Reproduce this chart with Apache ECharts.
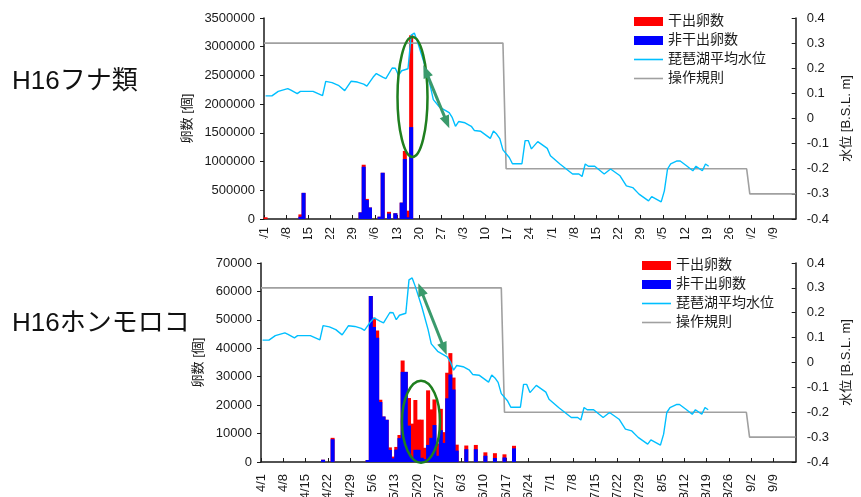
<!DOCTYPE html>
<html><head><meta charset="utf-8">
<script src="https://cdn.jsdelivr.net/npm/echarts@6/dist/echarts.min.js"></script>
<style>
html,body{margin:0;padding:0;background:#fff;width:861px;height:497px;overflow:hidden;}
#topClip{position:absolute;left:0;top:0;width:861px;height:239px;overflow:hidden;}
#botClip{position:absolute;left:0;top:243px;width:861px;height:254px;overflow:hidden;}
#top{width:861px;height:290px;}
#bot{width:861px;height:300px;}
</style></head><body>
<div id="topClip"><div id="top"></div></div>
<div id="botClip"><div id="bot"></div></div>
<script>
// ---------- data ----------
const xTickLabels = ['4/1','4/8','4/15','4/22','4/29','5/6','5/13','5/20','5/27','6/3','6/10','6/17','6/24','7/1','7/8','7/15','7/22','7/29','8/5','8/12','8/19','8/26','9/2','9/9'];

// Lake Biwa mean water level (B.S.L. m)
const levelDates = ['4/1','4/3','4/5','4/8','4/9','4/11','4/12','4/16','4/19','4/20','4/22','4/24','4/26','4/28','4/30',
  '5/2','5/3','5/5','5/6','5/8','5/9','5/11','5/12','5/13','5/14','5/16','5/17','5/18','5/19','5/21','5/23','5/24','5/26','5/29','5/30','5/31',
  '6/1','6/3','6/5','6/6','6/8','6/11','6/12','6/13','6/14','6/15','6/17','6/18','6/21','6/22','6/23','6/24','6/26','6/29','6/30',
  '7/3','7/7','7/9','7/10','7/11','7/12','7/14','7/17','7/19','7/22','7/24','7/26','7/28','7/31',
  '8/1','8/4','8/5','8/6','8/7','8/9','8/10','8/12','8/14','8/15','8/17','8/18','8/19'];
const levelValues = [0.09,0.09,0.108,0.119,0.113,0.099,0.108,0.108,0.091,0.148,0.143,0.132,0.111,0.148,0.145,
  0.137,0.129,0.165,0.179,0.165,0.159,0.201,0.2,0.172,0.19,0.198,0.332,0.34,0.305,0.225,0.132,0.075,0.045,0.023,0.003,-0.031,
  -0.012,-0.017,-0.031,-0.048,-0.051,-0.079,-0.05,-0.062,-0.08,-0.125,-0.155,-0.18,-0.18,-0.088,-0.088,-0.121,-0.092,-0.119,-0.148,
  -0.181,-0.221,-0.221,-0.231,-0.181,-0.19,-0.19,-0.221,-0.201,-0.228,-0.268,-0.275,-0.301,-0.328,
  -0.311,-0.332,-0.288,-0.201,-0.181,-0.169,-0.169,-0.188,-0.208,-0.19,-0.208,-0.181,-0.19];

// Operation rule
const ruleDates = ['4/1','6/15','6/16','8/31','9/1','9/16'];
const ruleValues = [0.3,0.3,-0.2,-0.2,-0.3,-0.3];

// H16 フナ類 eggs (wet = 非干出, dry = 干出)
const funaDates = ['4/1','4/12','4/13','5/1','5/2','5/3','5/4','5/7','5/8','5/10','5/12','5/14','5/15','5/16','5/17'];
const funaWet   = [0,40000,455000,115000,910000,330000,200000,40000,805000,95000,100000,285000,1045000,30000,1600000];
const funaDry   = [30000,40000,0,0,35000,20000,0,0,0,30000,0,0,140000,115000,1600000];

// H16 ホンモロコ eggs
const morokoDates = ['4/20','4/23','5/4','5/5','5/6','5/7','5/8','5/9','5/10','5/11','5/12','5/13','5/14','5/15','5/16','5/17','5/18','5/19','5/20','5/21','5/22','5/23','5/24','5/25','5/26','5/27','5/28','5/29','5/30','5/31','6/1','6/4','6/7','6/10','6/13','6/16','6/19'];
const morokoWet = [800,8000,700,58400,47500,43700,21100,16000,14850,4240,1300,4350,8400,31700,31700,12800,1500,4300,4300,1500,1000,6000,8500,13000,2200,11200,6700,22400,30800,25500,4000,4500,4500,2200,1400,1600,4800];
const morokoDry = [0,500,0,0,3200,2600,800,0,0,900,600,950,1100,4000,0,9700,12000,17500,10600,13400,4000,19200,10000,9000,4300,7500,3800,9000,7500,4200,2100,1300,1500,1200,1700,1100,900];

// ---------- helpers ----------
const MONTH_START = {4:0,5:30,6:61,7:91,8:122,9:153};
function dayOf(s){const p=s.split('/').map(Number);return MONTH_START[p[0]]+p[1]-1;}
const XMAX = 168;
const FONT = '"Liberation Sans","Noto Sans CJK JP",Arial,sans-serif';
const INK = '#1a1a1a';
const LINE_ICON = 'path://M0,0L29,0L29,1.6L0,1.6Z';

function levelSeries(){return levelDates.map((d,i)=>[dayOf(d)+0.5, levelValues[i]]);}
function ruleSeries(){return ruleDates.map((d,i)=>[(i===0||i===ruleDates.length-1)?Math.min(dayOf(d),XMAX):dayOf(d)+0.5, ruleValues[i]]);}

function annotation(ell, arr){
  const C='#3a9a6c';
  const g=[{type:'ellipse',shape:{cx:ell[0],cy:ell[1],rx:ell[2],ry:ell[3]},style:{fill:null,stroke:'#1f7f1f',lineWidth:2.5},z:100}];
  const [x1,y1,x2,y2]=arr;const dx=x2-x1,dy=y2-y1,L=Math.hypot(dx,dy),ux=dx/L,uy=dy/L,px=-uy,py=ux;
  const H=13,W=5;
  g.push({type:'line',shape:{x1:x1+ux*H*0.7,y1:y1+uy*H*0.7,x2:x2-ux*H*0.7,y2:y2-uy*H*0.7},style:{stroke:C,lineWidth:3},z:100});
  g.push({type:'polygon',shape:{points:[[x1,y1],[x1+ux*H+px*W,y1+uy*H+py*W],[x1+ux*H-px*W,y1+uy*H-py*W]]},style:{fill:C},z:100});
  g.push({type:'polygon',shape:{points:[[x2,y2],[x2-ux*H+px*W,y2-uy*H+py*W],[x2-ux*H-px*W,y2-uy*H-py*W]]},style:{fill:C},z:100});
  return g;
}

function buildOption(c){
  const axisLine={show:true,onZero:false,lineStyle:{color:INK,width:1.5}};
  const totals=c.wet.map((w,i)=>w+c.dry[i]);
  return {
    animation:false,
    textStyle:{fontFamily:FONT},
    grid:{left:c.left,top:c.top,width:c.width,height:c.height,containLabel:false},
    legend:{orient:'vertical',left:c.legendLeft,top:c.legendTop,padding:0,itemWidth:29,itemHeight:9,itemGap:4,selectedMode:false,
      textStyle:{fontSize:14,color:INK,fontFamily:FONT,lineHeight:15},
      data:[{name:'干出卵数',icon:'rect'},{name:'非干出卵数',icon:'rect'},{name:'琵琶湖平均水位',icon:LINE_ICON},{name:'操作規則',icon:LINE_ICON}]},
    xAxis:{type:'value',min:0,max:XMAX,interval:7,axisLine:axisLine,
      axisTick:{show:true,inside:true,length:4,lineStyle:{color:INK,width:1}},splitLine:{show:false},
      axisLabel:{rotate:90,fontSize:13,color:INK,margin:c.xMargin,showMaxLabel:false,formatter:v=>xTickLabels[Math.round(v/7)]||''}},
    yAxis:[
      {type:'value',min:0,max:c.yMax,interval:c.yInterval,name:'卵数 [個]',nameLocation:'middle',nameRotate:90,nameGap:c.leftGap,
       nameTextStyle:{fontSize:13,color:INK,fontFamily:FONT},axisLine:axisLine,axisTick:{show:true,length:4,lineStyle:{color:INK}},
       splitLine:{show:false},axisLabel:{fontSize:13,color:INK,margin:9,formatter:v=>String(v)}},
      {type:'value',min:-0.4,max:0.4,interval:0.1,position:'right',name:'水位 [B.S.L. m]',nameLocation:'middle',nameRotate:90,nameGap:c.rightGap,
       nameTextStyle:{fontSize:13,color:INK,fontFamily:FONT},axisLine:axisLine,axisTick:{show:true,inside:true,length:4,lineStyle:{color:INK}},
       splitLine:{show:false},axisLabel:{fontSize:13,color:INK,margin:11,formatter:v=>String(Math.round(v*10)/10)}}
    ],
    series:[
      {name:'干出卵数',type:'bar',barWidth:4,barGap:'-100%',itemStyle:{color:'#ff0000'},data:c.dates.map((d,i)=>[dayOf(d)+0.5,totals[i]]),z:2},
      {name:'非干出卵数',type:'bar',barWidth:4,barGap:'-100%',itemStyle:{color:'#0000ff'},data:c.dates.map((d,i)=>[dayOf(d)+0.5,c.wet[i]]),z:3},
      {name:'琵琶湖平均水位',type:'line',yAxisIndex:1,symbol:'none',lineStyle:{color:'#00bfff',width:1.4},itemStyle:{color:'#00bfff'},data:levelSeries(),z:5},
      {name:'操作規則',type:'line',yAxisIndex:1,symbol:'none',lineStyle:{color:'#a0a0a0',width:1.6},itemStyle:{color:'#a0a0a0'},data:ruleSeries(),z:4}
    ],
    graphic:[
      {type:'text',x:12,y:c.titleY,style:{text:c.title,fontSize:26,fontFamily:FONT,fill:'#111',verticalAlign:'middle'},z:100}
    ].concat(annotation(c.ell,c.arrow))
  };
}

const topChart = echarts.init(document.getElementById('top'),null,{renderer:'canvas'});
topChart.setOption(buildOption({
  left:264,top:18,width:535,height:201,yMax:3500000,yInterval:500000,leftGap:60,rightGap:41,xMargin:8,
  legendLeft:634,legendTop:14,title:'H16フナ類',titleY:82,
  dates:funaDates,wet:funaWet,dry:funaDry,
  ell:[412.5,97,15,60],arrow:[423.3,65,449.3,128.3]
}));

const botChart = echarts.init(document.getElementById('bot'),null,{renderer:'canvas'});
botChart.setOption(buildOption({
  left:261,top:20,width:548,height:199,yMax:70000,yInterval:10000,leftGap:47,rightGap:43,xMargin:12,
  legendLeft:642,legendTop:15,title:'H16ホンモロコ',titleY:81,
  dates:morokoDates,wet:morokoWet,dry:morokoDry,
  ell:[421,178.7,19,41],arrow:[418.3,40.3,446.7,112]
}));
</script></body></html>
